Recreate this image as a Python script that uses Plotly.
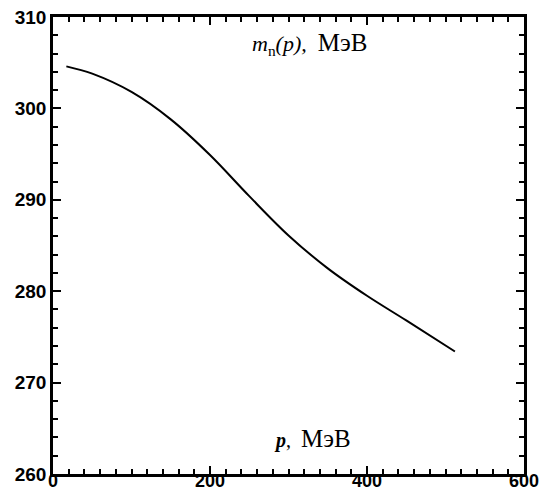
import plotly.graph_objects as go

# Data
p_mev = [17, 50, 100, 150, 200, 250, 300, 350, 400, 450, 512]
m_mev = [304.6, 303.8, 301.8, 298.8, 294.9, 290.4, 286.1, 282.5, 279.5, 276.8, 273.4]

x_major = [0, 200, 400, 600]
y_major = [260, 270, 280, 290, 300, 310]
x_minor_step = 20
y_minor_step = 2

x_minor = list(range(x_major[0], x_major[-1] + 1, x_minor_step))
y_minor = list(range(y_major[0], y_major[-1] + 1, y_minor_step))

fig = go.Figure()
fig.add_trace(go.Scatter(
    x=p_mev, y=m_mev, mode="lines",
    line=dict(color="black", width=2, shape="spline", smoothing=1.0),
    showlegend=False, hoverinfo="skip",
))
# invisible trace to activate the overlay axes
fig.add_trace(go.Scatter(x=[None], y=[None], xaxis="x2", yaxis="y2",
                         showlegend=False, hoverinfo="skip"))

tickfont = dict(family="Liberation Sans", size=19, color="black", weight="bold")
xtickfont = dict(family="Liberation Sans", size=18, color="black", weight="bold")

base = dict(showgrid=False, zeroline=False, automargin=False)

fig.update_layout(
    width=546, height=491,
    margin=dict(l=53, r=22, t=17, b=17),
    paper_bgcolor="white", plot_bgcolor="white",
    xaxis=dict(
        range=[0, 600], tickmode="array", tickvals=x_minor,
        ticktext=[str(v) if v in x_major else "" for v in x_minor],
        ticks="inside", ticklen=5, tickwidth=1.5, tickcolor="black",
        showline=True, linecolor="black", linewidth=2.5, mirror="ticks",
        tickfont=xtickfont, ticklabelstandoff=-11, **base,
    ),
    yaxis=dict(
        range=[260, 310], tickmode="array", tickvals=y_minor,
        ticktext=[str(v) if v in y_major else "" for v in y_minor],
        ticks="inside", ticklen=5, tickwidth=1.5, tickcolor="black",
        showline=True, linecolor="black", linewidth=2.5, mirror="ticks",
        tickfont=tickfont, **base,
    ),
    xaxis2=dict(
        range=[0, 600], overlaying="x", side="bottom", anchor="y",
        tickmode="array", tickvals=x_major, showticklabels=False,
        ticks="inside", ticklen=8, tickwidth=2.2, tickcolor="black",
        showline=False, mirror="ticks", **base,
    ),
    yaxis2=dict(
        range=[260, 310], overlaying="y", side="left", anchor="x",
        tickmode="array", tickvals=y_major, showticklabels=False,
        ticks="inside", ticklen=8, tickwidth=2.2, tickcolor="black",
        showline=False, mirror="ticks", **base,
    ),
)

fig.add_annotation(
    xref="paper", yref="paper", x=0.545, y=0.942, xanchor="center", yanchor="middle",
    showarrow=False,
    text="<i>m</i><sub>n</sub><i>(p),</i>&nbsp;&nbsp;<span style='font-size:25px'>МэВ</span>",
    font=dict(family="Liberation Serif", size=22, color="black"),
)
fig.add_annotation(
    xref="paper", yref="paper", x=0.552, y=0.078, xanchor="center", yanchor="middle",
    showarrow=False,
    text="<b><i>p</i></b>,&nbsp;&nbsp;<span style='font-size:25px'>МэВ</span>",
    font=dict(family="Liberation Serif", size=20, color="black"),
)

fig.write_html("out.html")
